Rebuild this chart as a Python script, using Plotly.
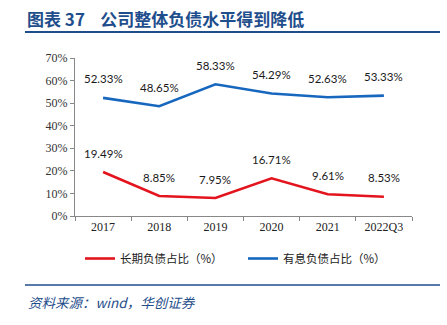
import plotly.graph_objects as go

categories = ["2017", "2018", "2019", "2020", "2021", "2022Q3"]
long_term_debt = [0.1949, 0.0885, 0.0795, 0.1671, 0.0961, 0.0853]
interest_debt = [0.5233, 0.4865, 0.5833, 0.5429, 0.5263, 0.5333]
y_ticks = [0, 0.1, 0.2, 0.3, 0.4, 0.5, 0.6, 0.7]

RED = "#E3141D"
BLUE = "#1767BF"
NAVY = "#1F4E8C"

fig = go.Figure()
series = [("长期负债占比（%）", long_term_debt, RED), ("有息负债占比（%）", interest_debt, BLUE)]
for name, vals, col in series:
    fig.add_trace(go.Scatter(x=categories, y=vals, mode="lines", name=name,
                             line=dict(color=col, width=2.6)))
    for i, v in enumerate(vals):
        fig.add_annotation(x=i, y=v, text=f"{v*100:.2f}%", showarrow=False,
                           yshift=19, xanchor="center", yanchor="middle",
                           font=dict(family="Lato, Liberation Sans", size=11.5, color="#1a1a1a"))

fig.update_layout(
    width=447, height=325,
    margin=dict(l=75, r=35, t=58, b=109),
    paper_bgcolor="white", plot_bgcolor="white",
    showlegend=True,
    legend=dict(orientation="h", x=(80 - 75) / 337, y=-(244 - 216) / 158,
                xanchor="left", yanchor="top",
                font=dict(family="Noto Sans CJK SC", size=11.5, color="#222"),
                entrywidth=118, entrywidthmode="pixels", itemwidth=30),
    xaxis=dict(type="category", tickson="boundaries", ticks="outside", ticklen=4,
               tickcolor="#888", showline=True, linecolor="#888", linewidth=1,
               showgrid=False, range=[-0.5, 5.5],
               tickfont=dict(family="Liberation Serif", size=12, color="#222")),
    yaxis=dict(range=[0, 0.7], tickvals=y_ticks, tickformat=".0%", ticks="outside",
               ticklen=4, tickcolor="#888", showline=True, linecolor="#888", linewidth=1,
               showgrid=False, zeroline=False,
               tickfont=dict(family="Liberation Serif", size=12, color="#333")),
)

def px_x(p):
    return (p - 75) / 337.0

def px_y(p):
    return (216 - p) / 158.0

fig.add_annotation(text="<b>图表\u00a037\u00a0\u00a0\u00a0\u00a0公司整体负债水平得到降低</b>",
                   xref="paper", yref="paper",
                   x=px_x(25), y=px_y(18), xanchor="left", yanchor="middle", showarrow=False,
                   font=dict(family="Noto Sans CJK SC", size=17, color=NAVY))
fig.add_shape(type="line", xref="paper", yref="paper", x0=px_x(25), x1=px_x(440),
              y0=px_y(32), y1=px_y(32), line=dict(color=NAVY, width=2))
fig.add_shape(type="line", xref="paper", yref="paper", x0=px_x(25), x1=px_x(440),
              y0=px_y(285), y1=px_y(285), line=dict(color=NAVY, width=1.5))
fig.add_annotation(text="<i>资料来源：wind，华创证券</i>", xref="paper", yref="paper",
                   x=px_x(26), y=px_y(302), xanchor="left", yanchor="middle", showarrow=False,
                   font=dict(family="Noto Sans CJK SC", size=13.5, color=NAVY))

fig.write_html("out.html")
